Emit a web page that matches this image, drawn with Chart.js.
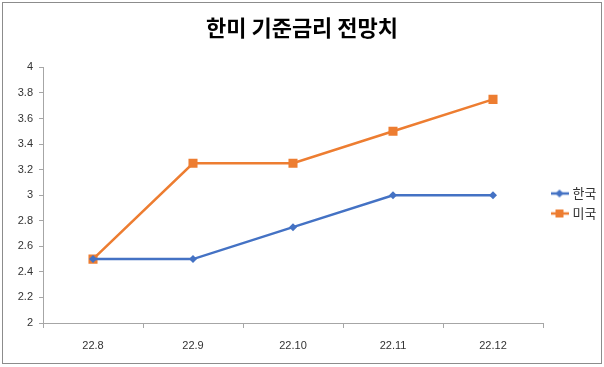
<!DOCTYPE html>
<html>
<head>
<meta charset="utf-8">
<script src="https://cdn.jsdelivr.net/npm/chart.js@4"></script>
<style>
  html, body { margin: 0; padding: 0; background: #fff; }
  #wrap { width: 604px; height: 367px; position: relative; }
</style>
</head>
<body>
<div id="wrap"><canvas id="rateChart" width="604" height="367"></canvas></div>
<script>
const months = ['22.8', '22.9', '22.10', '22.11', '22.12'];
const korea = [2.5, 2.5, 2.75, 3, 3];
const usa = [2.5, 3.25, 3.25, 3.5, 3.75];

const blue = '#4472C4';
const orange = '#ED7D31';
const font = "'Liberation Sans', 'Noto Sans CJK KR', sans-serif";

// little line+marker icons for the legend, like Excel draws them
function legendIcon(color, shape) {
    const c = document.createElement('canvas');
    c.width = 18; c.height = 10;
    const ctx = c.getContext('2d');
    ctx.strokeStyle = color;
    ctx.fillStyle = color;
    ctx.lineWidth = 2.5;
    ctx.beginPath();
    ctx.moveTo(0, 5); ctx.lineTo(18, 5);
    ctx.stroke();
    ctx.beginPath();
    if (shape === 'diamond') {
        ctx.moveTo(9, 1); ctx.lineTo(13, 5); ctx.lineTo(9, 9); ctx.lineTo(5, 5);
    } else {
        ctx.rect(5, 1, 8, 8);
    }
    ctx.fill();
    return c;
}
const icons = [legendIcon(blue, 'diamond'), legendIcon(orange, 'square')];

const borderPlugin = {
    id: 'outerBorder',
    afterDraw(chart) {
        const ctx = chart.ctx;
        ctx.save();
        ctx.strokeStyle = '#8c8c8c';
        ctx.lineWidth = 1;
        ctx.strokeRect(2.5, 2.5, 599, 361);
        ctx.restore();
    }
};

const legendPlace = {
    id: 'legendPlace',
    afterInit(chart) {
        const fit = chart.legend.fit;
        chart.legend.fit = function () {
            fit.call(this);
            this.width = 61;
        };
    },
    afterLayout(chart) {
        chart.legend.left += 3;
        chart.legend.right += 3;
        chart.legend.top += 20;
        chart.legend.bottom += 20;
    }
};

new Chart(document.getElementById('rateChart'), {
    type: 'line',
    data: {
        labels: months,
        datasets: [
            {
                label: '한국',
                data: korea,
                borderColor: blue,
                backgroundColor: blue,
                borderWidth: 2.5,
                pointStyle: 'rectRot',
                pointRadius: 4,
                pointBorderWidth: 0,
                fill: false,
                tension: 0
            },
            {
                label: '미국',
                data: usa,
                borderColor: orange,
                backgroundColor: orange,
                borderWidth: 2.5,
                pointStyle: 'rect',
                pointRadius: 6.4,
                pointBorderWidth: 0,
                fill: false,
                tension: 0
            }
        ]
    },
    options: {
        responsive: false,
        animation: false,
        layout: { padding: { left: 0, right: 0, top: 0, bottom: 0 } },
        plugins: {
            title: {
                display: true,
                text: '한미 기준금리 전망치',
                color: '#000',
                font: { family: "'Noto Sans CJK KR', sans-serif", size: 22, weight: 'bold' },
                padding: { top: 14, bottom: 27 }
            },
            legend: {
                position: 'right',
                labels: {
                    usePointStyle: true,
                    color: '#333',
                    font: { family: "'Noto Sans CJK KR', sans-serif", size: 13 },
                    padding: 7,
                    generateLabels(chart) {
                        return chart.data.datasets.map((ds, i) => ({
                            text: ds.label,
                            pointStyle: icons[i],
                            fillStyle: ds.borderColor,
                            strokeStyle: ds.borderColor,
                            lineWidth: 0,
                            fontColor: '#333',
                            datasetIndex: i
                        }));
                    }
                }
            },
            tooltip: { enabled: false }
        },
        scales: {
            x: {
                offset: true,
                grid: {
                    offset: true,
                    drawOnChartArea: false,
                    drawTicks: true,
                    tickLength: 5,
                    color: '#a6a6a6'
                },
                border: { color: '#a6a6a6', width: 1 },
                ticks: { color: '#333', font: { family: font, size: 11 }, padding: 11 },
                afterFit(scale) { scale.height = 44; }
            },
            y: {
                min: 2,
                max: 4,
                ticks: {
                    stepSize: 0.2,
                    color: '#333',
                    font: { family: font, size: 11 },
                    padding: 6,
                    callback: v => Math.round(v * 10) / 10
                },
                grid: {
                    drawOnChartArea: false,
                    drawTicks: true,
                    tickLength: 4,
                    color: '#a6a6a6'
                },
                border: { color: '#a6a6a6', width: 1 },
                afterFit(scale) { scale.width = 43; }
            }
        }
    },
    plugins: [borderPlugin, legendPlace]
});
</script>
</body>
</html>
